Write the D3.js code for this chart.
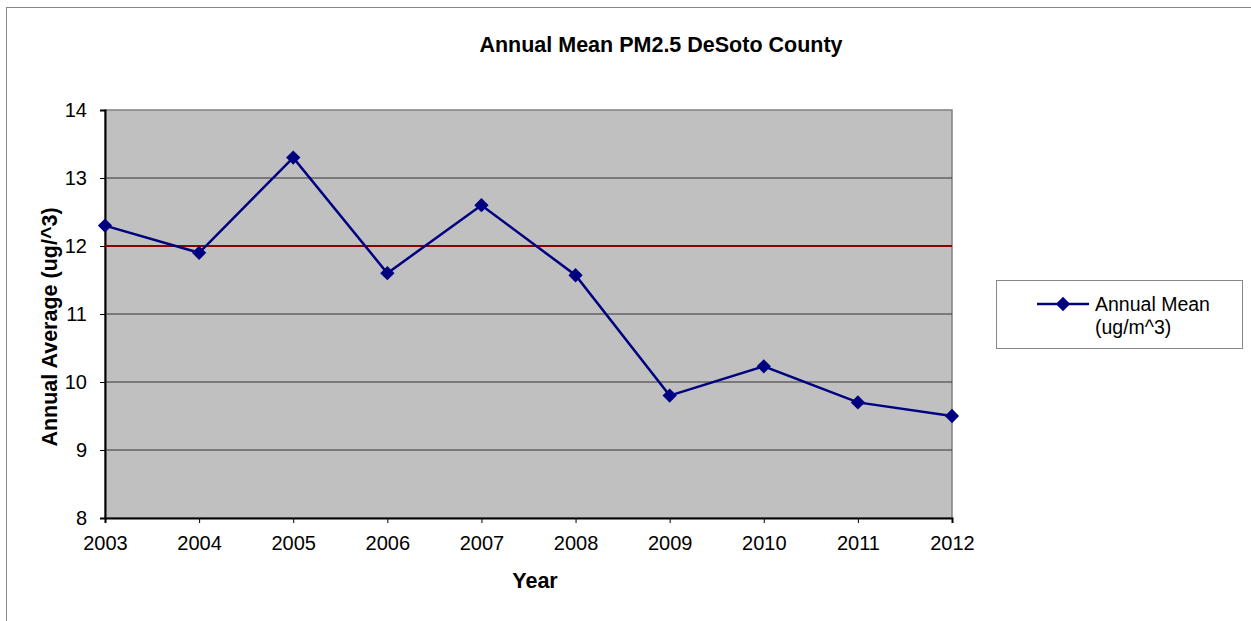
<!DOCTYPE html>
<html><head><meta charset="utf-8">
<script src="https://cdn.jsdelivr.net/npm/d3@7"></script>
<style>body{margin:0;background:#fff;font-family:"Liberation Sans",Arial,sans-serif;}</style>
</head><body>
<svg id="c" width="1251" height="621" font-family="Liberation Sans, Arial, sans-serif"></svg>
<script>
const years = [2003,2004,2005,2006,2007,2008,2009,2010,2011,2012];
const annualMean = [12.3,11.9,13.3,11.6,12.6,11.57,9.8,10.23,9.7,9.5];
const standard = 12;
const yTicks = [8,9,10,11,12,13,14];

const svg = d3.select("#c");
const W=1251,H=621;
svg.append("rect").attr("x",6.5).attr("y",7.5).attr("width",W).attr("height",H).attr("fill","#fff").attr("stroke","#888");

const L=105,R=952,T=110,B=518;
const x = d3.scalePoint().domain(years).range([L,R]);
const y = d3.scaleLinear().domain([8,14]).range([B,T]);

svg.append("rect").attr("x",L).attr("y",T).attr("width",R-L).attr("height",B-T).attr("fill","#c0c0c0").attr("stroke","#808080").attr("stroke-width",1.5);

svg.append("g").selectAll("line").data(yTicks.filter(d=>d>8&&d<14)).join("line")
 .attr("x1",L).attr("x2",R).attr("y1",d=>y(d)).attr("y2",d=>y(d)).attr("stroke","#333").attr("stroke-width",1);

const yAxis = svg.append("g").attr("transform",`translate(${L},0)`)
 .call(d3.axisLeft(y).tickValues(yTicks).tickSize(5).tickPadding(13).tickFormat(d3.format("d")));
yAxis.attr("font-size",20).attr("font-family","Liberation Sans, Arial, sans-serif");
yAxis.select(".domain").attr("stroke","#000").attr("stroke-width",2);
yAxis.selectAll("text").attr("fill","#000");

const xAxis = svg.append("g").attr("transform",`translate(0,${B})`)
 .call(d3.axisBottom(x).tickSize(5).tickPadding(13).tickFormat(d3.format("d")));
xAxis.attr("font-size",20).attr("font-family","Liberation Sans, Arial, sans-serif");
xAxis.select(".domain").attr("stroke","#000").attr("stroke-width",2);
xAxis.selectAll("text").attr("fill","#000");

svg.append("line").attr("x1",L).attr("x2",R).attr("y1",y(standard)).attr("y2",y(standard))
 .attr("stroke","#8b0000").attr("stroke-width",2);

const line = d3.line().x((d,i)=>x(years[i])).y(d=>y(d));
svg.append("path").datum(annualMean).attr("d",line).attr("fill","none").attr("stroke","#000080").attr("stroke-width",2.5);

const diamond = d3.symbol().type(d3.symbolDiamond2).size(130);
svg.append("g").selectAll("path").data(annualMean).join("path")
 .attr("transform",(d,i)=>`translate(${x(years[i])},${y(d)})`).attr("d",diamond).attr("fill","#000080");

svg.append("text").attr("x",661).attr("y",52).attr("text-anchor","middle").attr("font-size",21.5).attr("font-weight","bold").text("Annual Mean PM2.5 DeSoto County");
svg.append("text").attr("x",535).attr("y",588).attr("text-anchor","middle").attr("font-size",21.5).attr("font-weight","bold").text("Year");
svg.append("text").attr("transform","translate(57,327) rotate(-90)").attr("text-anchor","middle").attr("font-size",21.5).attr("font-weight","bold").text("Annual Average (ug/^3)");

const lg = svg.append("g");
lg.append("rect").attr("x",996.5).attr("y",280.5).attr("width",246).attr("height",68).attr("fill","#fff").attr("stroke","#888");
lg.append("line").attr("x1",1037).attr("x2",1089).attr("y1",304).attr("y2",304).attr("stroke","#000080").attr("stroke-width",2.5);
lg.append("path").attr("transform","translate(1063,304)").attr("d",diamond).attr("fill","#000080");
lg.append("text").attr("x",1095).attr("y",311).attr("font-size",19.5).text("Annual Mean");
lg.append("text").attr("x",1095).attr("y",334).attr("font-size",19.5).text("(ug/m^3)");
</script>
</body></html>
